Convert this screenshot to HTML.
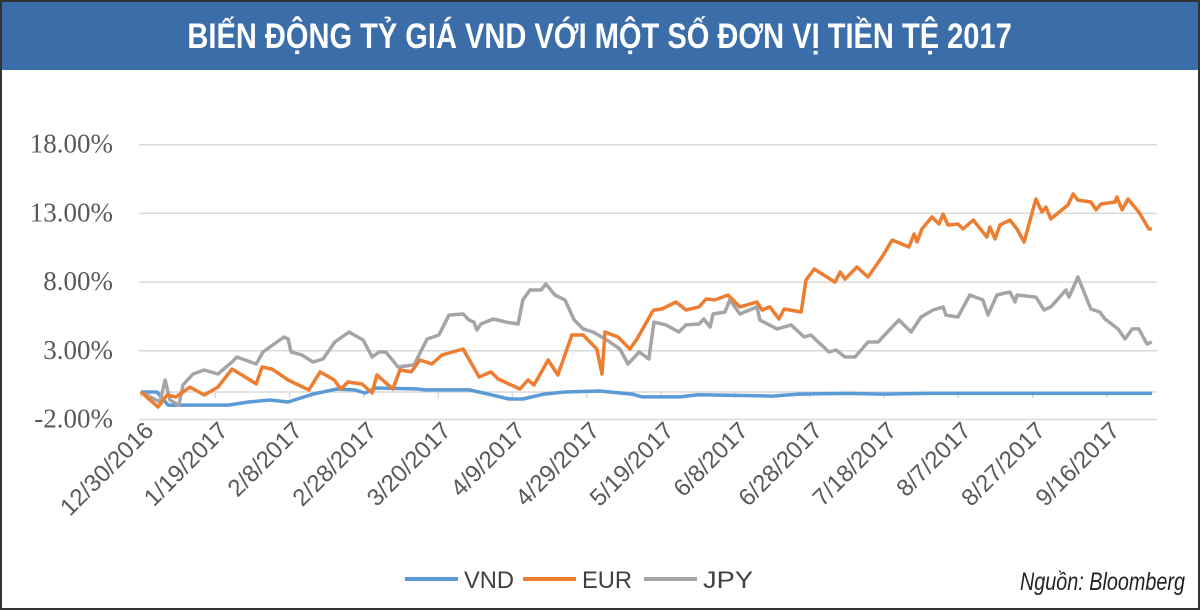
<!DOCTYPE html>
<html><head><meta charset="utf-8"><style>
html,body{margin:0;padding:0;background:#fff;}
#wrap{position:relative;width:1200px;height:610px;overflow:hidden;background:#fff;box-sizing:border-box;border:2px solid #333;}
#title{position:absolute;left:0;top:0;width:1196px;height:68px;background:#3b6ea8;color:#fff;font-family:"Liberation Sans",sans-serif;font-weight:bold;font-size:35px;text-align:center;line-height:70px;white-space:nowrap;}
#title span{display:inline-block;transform:scaleX(0.83);transform-origin:center;}
svg{position:absolute;left:0;top:0;}
</style></head><body>
<div id="wrap">
<div id="title"><span>BIẾN ĐỘNG TỶ GIÁ VND VỚI MỘT SỐ ĐƠN VỊ TIỀN TỆ 2017</span></div>
<svg id="chart" width="1200" height="610"></svg>
</div>
<script>
const yTicks=[18,13,8,3,-2];
const yTickLabels=["18.00%","13.00%","8.00%","3.00%","-2.00%"];
const xTickDays=[0,20,40,60,80,100,120,140,160,180,200,220,240,260];
const xTickLabels=["12/30/2016","1/19/2017","2/8/2017","2/28/2017","3/20/2017","4/9/2017","4/29/2017","5/19/2017","6/8/2017","6/28/2017","7/18/2017","8/7/2017","8/27/2017","9/16/2017"];
const eurDays=[0,4.6,7,9.4,13.2,17,20.7,24.5,27.2,31,32.6,35.3,39.6,45.2,48.2,52,53.8,55.7,59.5,62.2,63.5,67.8,69.7,72.7,75.1,78.3,81,86.7,91,94.2,96.1,102,104.2,105.8,109.6,112.2,116,119,122.7,124.1,124.9,128.4,131.6,133.5,137.6,138.1,140.2,144,146.7,150.2,152.1,154.5,158,161.2,165.8,167.2,169.3,171.7,173.1,177.7,179,181.2,186.8,188.2,189.5,192.7,195.7,199.5,202.2,206.7,208.1,208.9,210.2,212.9,214.8,215.9,217.2,219.9,221.3,224,227.7,228.5,229.9,231.2,233.9,235.8,237.7,240.9,242.5,243.6,244.9,249.5,250.9,252.2,255.7,257.1,258.4,262.2,262.7,264.1,265.7,268.6,271.3,272.1];
const eurValues=[0,-1.09,-0.22,-0.36,0.36,-0.22,0.36,1.67,1.24,0.58,1.82,1.67,0.87,0.15,1.46,0.87,0.22,0.73,0.58,-0.07,1.24,0.22,1.6,1.46,2.33,2.04,2.69,3.13,1.09,1.46,0.95,0.22,0.87,0.51,2.33,1.24,4.15,4.15,3.13,1.31,4.37,4.0,3.13,3.86,5.82,5.97,6.04,6.55,5.97,6.19,6.77,6.7,7.06,6.19,6.55,5.97,6.19,5.31,6.04,5.82,8.15,8.95,8.0,8.73,8.22,9.1,8.37,9.83,11.06,10.55,11.5,10.92,11.86,12.74,12.23,12.95,12.15,12.23,11.86,12.52,11.28,12.0,11.14,12.15,12.52,11.86,10.92,14.05,13.1,13.46,12.59,13.61,14.41,13.97,13.83,13.25,13.68,13.83,14.19,13.25,14.05,13.1,11.86,11.86];
const jpyDays=[0,5.1,6.5,7.8,10.2,11.3,14,17,20.7,24.5,25.8,31,32.8,36.6,38.5,39.6,40.4,43.3,46.3,49,52.2,56,59.8,62.2,64.1,65.9,69.2,73.5,77,80.2,82.9,86.7,88.3,89.6,90.4,91.5,94.8,98.3,101.5,102.8,104.7,107.7,109,111.4,114.1,116.6,119,121.7,125.4,128.9,131.1,134.1,136.7,138.1,141.3,144.8,146.7,150.2,151.5,153.2,154,157.2,158.5,161.2,165.8,166.6,171.2,175,178.5,180.3,185.2,187.1,189.5,192.2,195.7,198.4,202.2,204,207.3,210,213.2,215.9,216.7,219.9,223.1,226.6,228,230.4,233.9,235.3,235.8,240.9,243.1,244.9,249,249.8,252.2,255.7,258.1,259.5,263,264.9,266.8,268.6,270.8,272.1];
const jpyValues=[0,-0.73,0.87,-0.58,-0.95,0.51,1.31,1.6,1.31,2.18,2.55,2.04,2.91,3.64,4.0,3.86,2.91,2.69,2.18,2.4,3.64,4.37,3.78,2.55,2.91,2.91,1.82,1.97,3.86,4.15,5.6,5.68,5.24,5.09,4.51,4.95,5.31,5.09,4.95,6.7,7.42,7.42,7.86,7.06,6.7,5.24,4.59,4.37,3.78,3.13,2.04,2.91,2.4,5.09,4.88,4.37,4.88,4.95,5.31,4.73,5.68,5.82,6.7,5.68,6.19,5.24,4.59,4.88,4.0,4.15,2.91,3.06,2.55,2.55,3.64,3.64,4.73,5.24,4.37,5.46,5.97,6.19,5.6,5.46,7.06,6.7,5.6,7.06,7.28,6.55,7.06,6.91,5.97,6.19,7.42,6.91,8.37,6.04,5.82,5.31,4.59,3.86,4.59,4.59,3.49,3.64];
const vndDays=[0,4.3,7.3,17,23.4,29,34.7,39.6,46.3,52.7,57.5,60.3,63.2,74.5,76.4,88.5,93.4,99.1,102.8,108.5,114.1,123.5,132.2,134.9,145,150,160,170,177,190,200,212,240,252,272.1];
const vndValues=[0,0,-0.95,-0.95,-0.95,-0.73,-0.58,-0.73,-0.15,0.22,0.15,-0.07,0.29,0.22,0.15,0.15,-0.15,-0.51,-0.51,-0.15,0,0.07,-0.15,-0.36,-0.36,-0.2,-0.25,-0.3,-0.15,-0.1,-0.15,-0.1,-0.1,-0.1,-0.1];

const NS="http://www.w3.org/2000/svg";
const svg=document.getElementById('chart');
const X=d=>139+d*3.715;
const Y=v=>390-v*13.74;
function mk(tag,attrs,parent){const e=document.createElementNS(NS,tag);for(const k in attrs)e.setAttribute(k,attrs[k]);(parent||svg).appendChild(e);return e;}
yTicks.forEach((t,i)=>{
 const g=mk('line',{x1:137,x2:1155,y1:Y(t),y2:Y(t),stroke:'#d9d9d9','stroke-width':1.5});
 
 
 const tx=mk('text',{x:111,y:Y(t)+8,'text-anchor':'end','font-family':'Liberation Serif, serif','font-size':27,fill:'#595959'});
 tx.textContent=yTickLabels[i];
 
 
});
const ax=mk('line',{x1:137,x2:1155,y1:Y(0),y2:Y(0),stroke:'#d9d9d9','stroke-width':1.5});


xTickDays.forEach((d,i)=>{
 const tk=mk('line',{x1:X(d),x2:X(d),y1:Y(0),y2:Y(0)+6,stroke:'#d9d9d9','stroke-width':1.5});
 
 
 const tx=mk('text',{x:0,y:0,'text-anchor':'end','font-family':'Liberation Sans, sans-serif','font-size':24,fill:'#595959',transform:`translate(${X(d)+14},${Y(0)+40}) rotate(-45)`});
 tx.textContent=xTickLabels[i];
 
 
});
function series(days,vals,color,name){
 const pts=days.map((d,i)=>X(d).toFixed(1)+','+Y(vals[i]).toFixed(1)).join(' ');
 const p=mk('polyline',{points:pts,fill:'none',stroke:color,'stroke-width':3.5,'stroke-linejoin':'round'});
 
 
}
series(vndDays,vndValues,'#5b9bd5','series-vnd');
series(jpyDays,jpyValues,'#a5a5a5','series-jpy');
series(eurDays,eurValues,'#ed7d31','series-eur');
const leg=[['VND','#5b9bd5',403],['EUR','#ed7d31',521],['JPY','#a5a5a5',642]];
leg.forEach(l=>{
 const ln=mk('line',{x1:l[2],x2:l[2]+53,y1:577,y2:577,stroke:l[1],'stroke-width':4});
 
 
 const t=mk('text',{x:l[2]+59,y:586,'font-family':'Liberation Sans, sans-serif','font-size':24,fill:'#404040',textLength:50,lengthAdjust:'spacingAndGlyphs'});
 t.textContent=l[0];
 
 
});
const src=mk('text',{x:1018,y:588,'font-family':'Liberation Sans, sans-serif','font-size':25,'font-style':'italic',fill:'#222',textLength:165,lengthAdjust:'spacingAndGlyphs'});
src.textContent='Nguồn: Bloomberg';


</script>
</body></html>
